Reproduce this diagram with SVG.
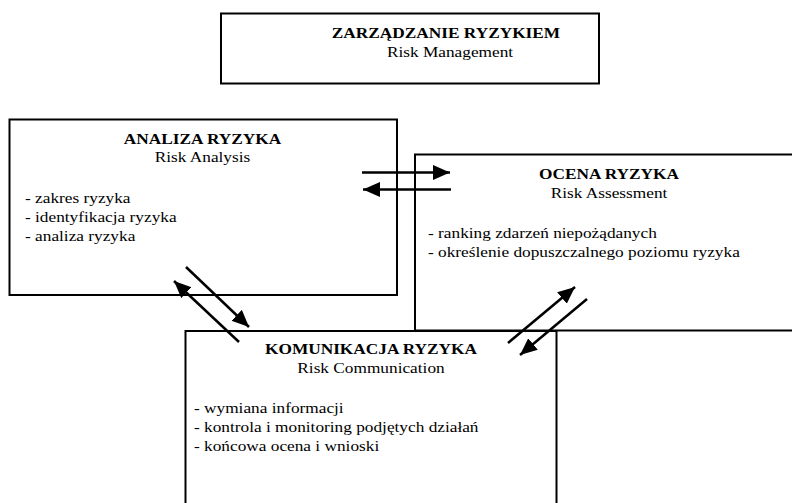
<svg xmlns="http://www.w3.org/2000/svg" width="792" height="503" viewBox="0 0 792 503">
<style>
.box{fill:none;stroke:#000;stroke-width:2}
.t{font-family:"Liberation Serif","Times New Roman",serif;font-size:15.3px;fill:#000}
.b{font-weight:bold;text-anchor:middle}
.m{text-anchor:middle}
.arr{stroke:#000;stroke-width:2.5;fill:none;marker-end:url(#ah)}
</style>
<defs>
<marker id="ah" markerUnits="userSpaceOnUse" markerWidth="20" markerHeight="18" refX="17" refY="7.5" orient="auto" viewBox="0 0 20 18">
<path d="M0,0 L17,7.5 L0,15 z" fill="#000"/>
</marker>
</defs>
<rect width="792" height="503" fill="#fff"/>
<g id="management">
<rect class="box" x="221" y="13.5" width="378" height="70"/>
<text class="t b" transform="translate(446,37.5) scale(1.13,1)">ZARZĄDZANIE RYZYKIEM</text>
<text class="t m" transform="translate(450,56.5) scale(1.13,1)">Risk Management</text>
</g>
<g id="analysis">
<rect class="box" x="9.5" y="119.5" width="387.5" height="175.5"/>
<text class="t b" transform="translate(202.5,144) scale(1.13,1)">ANALIZA RYZYKA</text>
<text class="t m" transform="translate(202.5,161.5) scale(1.13,1)">Risk Analysis</text>
<text class="t" transform="translate(25,203) scale(1.13,1)">- zakres ryzyka</text>
<text class="t" transform="translate(25,222) scale(1.13,1)">- identyfikacja ryzyka</text>
<text class="t" transform="translate(25,241) scale(1.13,1)">- analiza ryzyka</text>
</g>
<g id="assessment">
<rect class="box" x="415" y="154.5" width="400" height="176"/>
<text class="t b" transform="translate(609,179) scale(1.13,1)">OCENA RYZYKA</text>
<text class="t m" transform="translate(609,197.5) scale(1.13,1)">Risk Assessment</text>
<text class="t" transform="translate(428,237.5) scale(1.13,1)">- ranking zdarzeń niepożądanych</text>
<text class="t" transform="translate(428,256.5) scale(1.13,1)">- określenie dopuszczalnego poziomu ryzyka</text>
</g>
<g id="communication">
<rect class="box" x="185.5" y="331" width="371" height="190"/>
<text class="t b" transform="translate(371,354) scale(1.13,1)">KOMUNIKACJA RYZYKA</text>
<text class="t m" transform="translate(371,373) scale(1.13,1)">Risk Communication</text>
<text class="t" transform="translate(194,413) scale(1.13,1)">- wymiana informacji</text>
<text class="t" transform="translate(194,432) scale(1.13,1)">- kontrola i monitoring podjętych działań</text>
<text class="t" transform="translate(194,451) scale(1.13,1)">- końcowa ocena i wnioski</text>
</g>
<g id="connectors">
<line class="arr" x1="362" y1="172.5" x2="450" y2="172.5"/>
<line class="arr" x1="451" y1="189.5" x2="363" y2="189.5"/>
<line class="arr" x1="186" y1="267" x2="249" y2="327"/>
<line class="arr" x1="239" y1="342" x2="174" y2="281"/>
<line class="arr" x1="508" y1="343" x2="575" y2="287"/>
<line class="arr" x1="587" y1="299" x2="520" y2="355"/>
</g>
</svg>
